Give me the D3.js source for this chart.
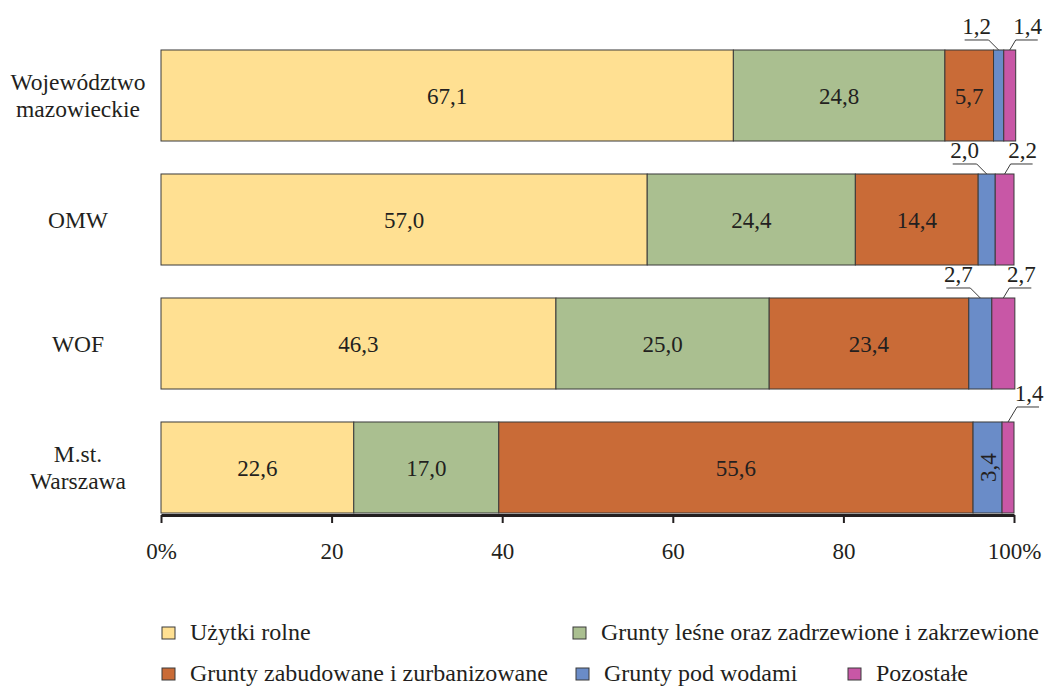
<!DOCTYPE html>
<html>
<head>
<meta charset="utf-8">
<script src="https://cdn.jsdelivr.net/npm/d3@7"></script>
<style>
  body { margin: 0; background: #fff; }
  svg text { font-family: "Liberation Serif", "Times New Roman", serif; fill: #231f20; }
</style>
</head>
<body>
<svg width="1046" height="686"></svg>
<script>
// data
var categories = ["Województwo mazowieckie", "OMW", "WOF", "M.st. Warszawa"];
var categoryLines = [["Województwo", "mazowieckie"], ["OMW"], ["WOF"], ["M.st.", "Warszawa"]];
var seriesNames = ["Użytki rolne", "Grunty leśne oraz zadrzewione i zakrzewione",
    "Grunty zabudowane i zurbanizowane", "Grunty pod wodami", "Pozostałe"];
var uzytkiRolne      = [67.1, 57.0, 46.3, 22.6];
var gruntyLesne      = [24.8, 24.4, 25.0, 17.0];
var gruntyZabudowane = [5.7, 14.4, 23.4, 55.6];
var gruntyPodWodami  = [1.2, 2.0, 2.7, 3.4];
var pozostale        = [1.4, 2.2, 2.7, 1.4];
var tickValues = [0, 20, 40, 60, 80, 100];
var tickLabels = ["0%", "20", "40", "60", "80", "100%"];

var colors = ["#ffe092", "#aabf90", "#c96b37", "#6a8cc8", "#c857a6"];
var seriesValues = [uzytkiRolne, gruntyLesne, gruntyZabudowane, gruntyPodWodami, pozostale];

var rows = categories.map(function(c, i) {
    var r = { cat: c };
    seriesNames.forEach(function(s, j) { r[s] = seriesValues[j][i]; });
    return r;
});

var svg = d3.select("svg");
var fmt = function(v) { return d3.format(".1f")(v).replace(".", ","); };

var x = d3.scaleLinear().domain([0, 100]).range([161, 1014]);
var y = d3.scaleBand().domain(categories).range([33.5, 529.5])
    .paddingInner(0.266).paddingOuter(0.133);
var color = d3.scaleOrdinal().domain(seriesNames).range(colors);

var stacked = d3.stack().keys(seriesNames)(rows);

var layer = svg.selectAll(".layer")
    .data(stacked)
    .enter().append("g")
        .attr("class", "layer")
        .attr("fill", function(d) { return color(d.key); });

layer.selectAll("rect")
    .data(function(d) { return d; })
    .enter().append("rect")
        .attr("x", function(d) { return x(d[0]); })
        .attr("y", function(d) { return y(d.data.cat); })
        .attr("width", function(d) { return x(d[1]) - x(d[0]); })
        .attr("height", y.bandwidth())
        .attr("stroke", "#3a3a3a")
        .attr("stroke-width", 1);

// value labels
var labels = svg.append("g").attr("font-size", 23).attr("text-anchor", "middle");
stacked.forEach(function(s, si) {
    s.forEach(function(d, ci) {
        var v = d[1] - d[0];
        var cx = (x(d[0]) + x(d[1])) / 2;
        var top = y(d.data.cat);
        var cy = top + y.bandwidth() / 2;
        var txt = fmt(d.data[s.key]);
        if (v >= 5) {
            labels.append("text").attr("x", cx).attr("y", cy + 8).text(txt);
        } else if (v >= 3) {
            labels.append("text")
                .attr("transform", "translate(" + (cx + 8) + "," + cy + ") rotate(-90)")
                .text(txt);
        } else {
            // callout with leader line
            var left = si < seriesNames.length - 1;
            var rise = ci === categories.length - 1 ? 15 : 10;
            var ex = left ? cx - 10 : cx + 6 + (rise - 10) * 0.6;
            var ey = top - rise;
            var ux = left ? ex - 24 : ex + 22;
            labels.append("path")
                .attr("d", "M" + cx + "," + top + "L" + ex + "," + ey + "L" + ux + "," + ey)
                .attr("fill", "none").attr("stroke", "#3a3a3a").attr("stroke-width", 1);
            labels.append("text").attr("x", left ? (ex + ux) / 2 : ex + 12).attr("y", ey - 6).text(txt);
        }
    });
});

// category labels
var catG = svg.append("g").attr("font-size", 23.5).attr("text-anchor", "middle");
categories.forEach(function(c, i) {
    var lines = categoryLines[i];
    var cy = y(c) + y.bandwidth() / 2;
    var t = catG.append("text").attr("x", 78).attr("y", cy + 8 - (lines.length - 1) * 13.5);
    lines.forEach(function(l, k) {
        t.append("tspan").attr("x", 78).attr("dy", k === 0 ? 0 : 27).text(l);
    });
});

// x axis
var axis = svg.append("g")
    .attr("transform", "translate(0,515)")
    .call(d3.axisBottom(x).tickValues(tickValues)
        .tickFormat(function(d, i) { return tickLabels[i]; })
        .tickSize(8).tickSizeOuter(0).tickPadding(20));
axis.select(".domain").attr("stroke", "#231f20").attr("stroke-width", 3);
axis.selectAll(".tick line").attr("stroke", "#231f20").attr("stroke-width", 2);
axis.selectAll(".tick text")
    .attr("font-family", "Liberation Serif, serif")
    .attr("font-size", 23).attr("fill", "#231f20");

// legend
var legendPos = [[162, 627], [573, 627], [162, 668], [576, 668], [848, 668]];
var legend = svg.append("g").attr("font-size", 24);
seriesNames.forEach(function(s, i) {
    var p = legendPos[i];
    legend.append("rect")
        .attr("x", p[0]).attr("y", p[1]).attr("width", 13).attr("height", 12)
        .attr("fill", color(s)).attr("stroke", "#3a3a3a").attr("stroke-width", 1);
    legend.append("text").attr("x", p[0] + 28).attr("y", p[1] + 13).text(s);
});
</script>
</body>
</html>
